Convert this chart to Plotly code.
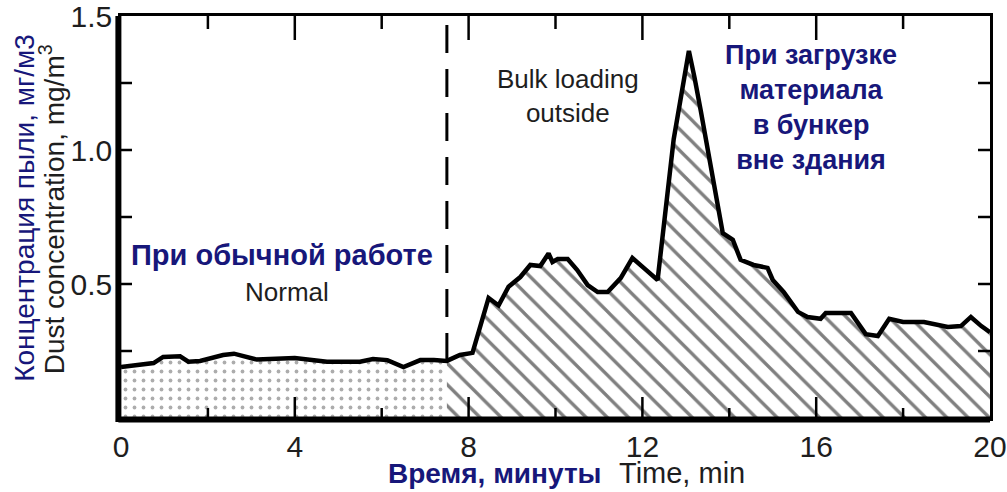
import plotly.graph_objects as go

# Dust concentration record (minutes, mg/m3)
time_min = [0.0, 0.45, 0.75, 0.97, 1.36, 1.55, 1.82, 2.35, 2.6, 3.13, 3.6, 4.0,
            4.74, 5.5, 5.8, 6.13, 6.5, 6.89, 7.2, 7.5,
            7.8, 8.09, 8.46, 8.69, 8.92, 9.19, 9.42, 9.65, 9.84, 9.93, 10.05,
            10.28, 10.5, 10.74, 10.97, 11.2, 11.5, 11.77, 12.03, 12.35, 12.72,
            13.07, 13.2, 13.34, 13.85, 14.08, 14.26, 14.56, 14.88, 15.0, 15.25,
            15.58, 15.8, 16.1, 16.22, 16.8, 17.14, 17.42, 17.68, 18.0, 18.48,
            19.03, 19.33, 19.56, 19.8, 20.0]
dust_mg_m3 = [0.19, 0.198, 0.205, 0.228, 0.23, 0.21, 0.213, 0.235, 0.24, 0.218, 0.222, 0.224,
              0.21, 0.21, 0.22, 0.216, 0.19, 0.216, 0.216, 0.213,
              0.235, 0.243, 0.448, 0.42, 0.49, 0.526, 0.571, 0.567, 0.614, 0.582, 0.593,
              0.593, 0.552, 0.496, 0.47, 0.47, 0.522, 0.597, 0.56, 0.515, 1.04,
              1.37, 1.27, 1.15, 0.69, 0.665, 0.59, 0.571, 0.56, 0.515, 0.47,
              0.396, 0.377, 0.37, 0.392, 0.392, 0.313, 0.306, 0.37, 0.358, 0.358,
              0.34, 0.343, 0.377, 0.343, 0.32]

loading_start_min = 7.5

# axes
x_range = [0, 20]
y_range = [0, 1.5]
x_ticks = [0, 4, 8, 12, 16, 20]
x_tick_labels = ["0", "4", "8", "12", "16", "20"]
x_minor_ticks = [2, 6, 10, 14, 18]
y_ticks = [0.5, 1.0, 1.5]
y_tick_labels = ["0.5", "1.0", "1.5"]
y_minor_ticks = [0.25, 0.75, 1.25]

NAVY = "#17177a"
INK = "#1e1e1e"
SANS = "Liberation Sans, Arial, sans-serif"

W, H = 1007, 492
M = dict(l=121, r=17, t=16, b=74)
plot_w = W - M["l"] - M["r"]
plot_h = H - M["t"] - M["b"]
# data units per screen pixel
x_per_px = (x_range[1] - x_range[0]) / plot_w
y_per_px = (y_range[1] - y_range[0]) / plot_h

normal_t = [t for t in time_min if t <= loading_start_min]
normal_c = dust_mg_m3[:len(normal_t)]
load_t = [t for t in time_min if t >= loading_start_min]
load_c = dust_mg_m3[len(time_min) - len(load_t):]

fig = go.Figure()

# stippled area: normal operation
fig.add_trace(go.Scatter(
    x=normal_t, y=normal_c, mode="lines", fill="tozeroy", line=dict(width=0),
    fillcolor="white",
    fillpattern=dict(shape=".", size=9, solidity=0.14, fgcolor="#5a5a5a", bgcolor="white"),
    hoverinfo="skip", showlegend=False))

# hatched area: bulk loading outside
fig.add_trace(go.Scatter(
    x=load_t, y=load_c, mode="lines", fill="tozeroy", line=dict(width=0),
    fillcolor="white",
    fillpattern=dict(shape="\\", size=15, solidity=0.22, fgcolor="black", bgcolor="white"),
    hoverinfo="skip", showlegend=False))

# dashed separator between the two regimes
split_c = normal_c[-1]
fig.add_trace(go.Scatter(
    x=[loading_start_min, loading_start_min], y=[split_c, y_range[1]], mode="lines",
    line=dict(color="black", width=3, dash="28px,16px"),
    hoverinfo="skip", showlegend=False))

# concentration curve
fig.add_trace(go.Scatter(
    x=time_min, y=dust_mg_m3, mode="lines",
    line=dict(color="black", width=4.5),
    hoverinfo="skip", showlegend=False))

# inward tick marks on all four sides, drawn over the filled areas
tick_x, tick_y = [], []
for v, bottom_px, top_px in ([(t, 21, 24) for t in x_ticks[1:-1]]
                             + [(t, 10, 13) for t in x_minor_ticks]):
    tick_x += [v, v, None, v, v, None]
    tick_y += [y_range[0], y_range[0] + bottom_px * y_per_px, None,
               y_range[1], y_range[1] - top_px * y_per_px, None]
for v in y_ticks[:-1] + y_minor_ticks:
    tick_x += [x_range[0], x_range[0] + 11 * x_per_px, None,
               x_range[1], x_range[1] - 12 * x_per_px, None]
    tick_y += [v, v, None, v, v, None]
fig.add_trace(go.Scatter(x=tick_x, y=tick_y, mode="lines",
                         line=dict(color="black", width=2.5),
                         hoverinfo="skip", showlegend=False))

tick_font = dict(family=SANS, size=30, color=INK)
frame = dict(showline=True, linecolor="black", linewidth=2.5, mirror=True,
             showgrid=False, zeroline=False, automargin=False, ticks="",
             ticklabeloverflow="allow", tickfont=tick_font)
fig.update_layout(
    width=W, height=H, margin=M,
    paper_bgcolor="white", plot_bgcolor="white",
    xaxis=dict(range=x_range, tickvals=x_ticks, ticktext=x_tick_labels, **frame),
    yaxis=dict(range=y_range, tickvals=y_ticks, ticktext=y_tick_labels, **frame),
    shapes=[
        # heavy left and bottom frame edges
        dict(type="line", xref="paper", yref="paper", x0=-0.003, x1=1.0, y0=-0.004, y1=-0.004,
             line=dict(color="black", width=6), layer="above"),
        dict(type="line", xref="paper", yref="paper", x0=-0.003, x1=-0.003, y0=-0.01, y1=1.0,
             line=dict(color="black", width=6), layer="above"),
    ],
)

annotations = [
    # y-axis titles
    dict(text="Концентрация пыли, мг/м3", xref="paper", yref="paper", x=-0.112, y=0.522,
         textangle=-90, showarrow=False, xanchor="center", yanchor="middle",
         font=dict(family=SANS, size=28, color=NAVY)),
    dict(text="Dust concentration, mg/m<sup>3</sup>", xref="paper", yref="paper", x=-0.079, y=0.52,
         textangle=-90, showarrow=False, xanchor="center", yanchor="middle",
         font=dict(family=SANS, size=28, color=INK)),
    # x-axis title
    dict(text="<b>Время, минуты</b>", xref="paper", yref="paper", x=0.43, y=-0.138,
         showarrow=False, xanchor="center", yanchor="middle",
         font=dict(family=SANS, size=28, color=NAVY)),
    dict(text="Time, min", xref="paper", yref="paper", x=0.645, y=-0.138,
         showarrow=False, xanchor="center", yanchor="middle",
         font=dict(family=SANS, size=29, color=INK)),
    # region labels
    dict(text="<b>При обычной работе</b>", x=3.7, y=0.61, showarrow=False,
         font=dict(family=SANS, size=29, color=NAVY)),
    dict(text="Normal", x=3.82, y=0.47, showarrow=False,
         font=dict(family=SANS, size=26, color=INK)),
    dict(text="Bulk loading<br>outside", x=10.29, y=1.2, showarrow=False,
         font=dict(family=SANS, size=26, color=INK)),
    dict(text="<b>При загрузке<br>материала<br>в бункер<br>вне здания</b>", x=15.88, y=1.16,
         showarrow=False, font=dict(family=SANS, size=27, color=NAVY)),
]
fig.update_layout(annotations=annotations)

fig.write_html("out.html")
